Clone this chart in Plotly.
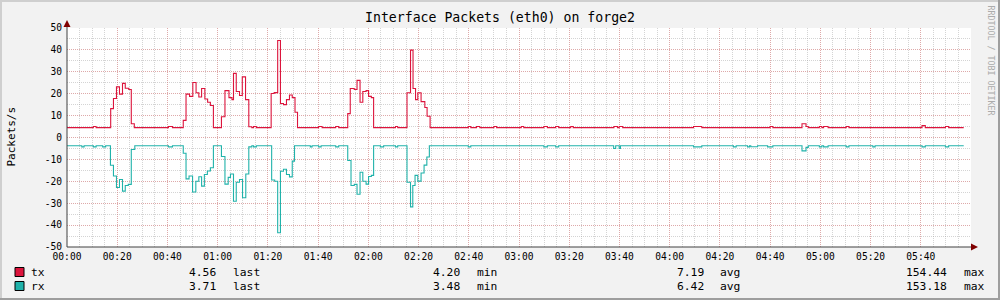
import plotly.graph_objects as go

# ---------------- data (minutes since 00:00, step start -> value) ----------------
tx_t = [0, 10.5, 11.6, 17.4, 18.5, 19.7, 20.9, 22.1, 23.2, 24.6, 25.6, 26.8,
        40.4, 42.0, 46.3, 47.4, 48.8, 50.1, 51.4, 52.5, 53.6, 54.9, 56.0, 57.1, 58.3,
        61.5, 62.9, 64.5, 65.7, 66.3, 67.4, 68.7, 69.8, 71.1, 72.4, 73.6, 74.3, 75.4,
        81.3, 82.5, 83.9, 85.0, 86.2, 87.4, 88.6, 89.7, 90.8, 91.8,
        100.2, 101.6, 107.0, 108.2,
        111.8, 112.8, 114.4, 115.5, 116.7, 117.8, 119.1, 120.1, 121.2, 122.1,
        130.8, 131.7,
        135.4, 136.8, 137.8, 138.8, 139.7, 141.0, 142.5, 143.4, 144.6,
        159.8, 160.8, 163.1, 164.4, 170.0, 171.1, 180.9, 181.9, 189.9, 191.3,
        194.6, 195.8, 200.6, 201.6, 217.8, 219.2, 219.9, 221.3, 249.5, 252.8,
        280.0, 281.1, 292.7, 294.3, 295.2, 299.6, 300.6, 301.3, 303.1, 310.3, 311.4,
        340.5, 341.8, 349.8, 351.1, 357.1]
tx_v = [4.5, 5.0, 4.5, 13.2, 17.8, 23.1, 19.8, 24.7, 22.5, 21.9, 6.3, 4.5,
        5.0, 4.5, 7.8, 19.8, 18.8, 25.1, 20.4, 18.5, 22.4, 17.6, 16.1, 14.6, 4.5,
        9.5, 21.4, 18.2, 17.3, 29.3, 21.0, 19.2, 27.7, 17.3, 4.9, 4.5, 5.0, 4.5,
        20.1, 20.5, 44.3, 15.5, 15.0, 17.3, 19.4, 18.2, 11.5, 4.5,
        5.0, 4.5, 5.0, 4.5,
        10.9, 22.4, 21.9, 26.1, 16.1, 21.0, 21.4, 18.8, 18.2, 4.5,
        5.0, 4.5,
        20.4, 39.9, 22.4, 17.3, 20.4, 16.4, 13.7, 9.7, 4.5,
        5.0, 4.5, 5.0, 4.5, 5.0, 4.5, 5.0, 4.5, 5.0, 4.5,
        5.0, 4.5, 5.0, 4.5, 5.0, 4.5, 5.0, 4.5, 5.0, 4.5,
        5.0, 4.5, 6.3, 5.0, 4.5, 5.0, 4.5, 5.0, 4.5, 5.0, 4.5,
        5.4, 4.5, 5.0, 4.5, 4.5]

rx_t = [0, 5.9, 6.8, 10.5, 11.6, 14.2, 15.4, 17.3, 18.5, 19.7, 20.9, 22.1, 23.2, 24.4, 25.6, 27.0,
        40.4, 42.0, 46.3, 47.4, 48.6, 50.0, 51.3, 52.5, 53.6, 54.7, 55.9, 57.1, 58.3,
        61.5, 62.9, 64.2, 65.1, 66.3, 67.4, 68.7, 69.9, 71.2, 72.4, 73.6, 74.3, 75.4,
        81.5, 82.7, 83.9, 85.0, 86.2, 87.4, 88.6, 89.7, 90.6,
        96.9, 97.6, 100.2, 101.2, 107.0, 108.2,
        111.8, 113.1, 114.4, 115.5, 116.7, 117.8, 119.1, 120.1, 121.2, 122.1,
        124.8, 126.1, 130.8, 131.7,
        135.4, 136.8, 137.7, 138.6, 139.7, 141.0, 142.2, 143.3, 144.3,
        159.8, 160.8, 189.9, 191.3, 194.6, 195.8, 217.7, 218.5, 219.9, 220.4,
        249.5, 252.8, 265.4, 266.5, 271.0, 271.8, 272.3, 275.0, 279.0, 281.1,
        292.7, 294.3, 295.2, 299.6, 300.6, 301.3, 303.1, 310.3, 311.4, 320.9, 321.8,
        340.5, 341.8, 349.8, 351.1, 357.1]
rx_v = [-3.8, -4.3, -3.8, -4.3, -3.8, -4.3, -3.8, -12.7, -17.6, -22.8, -19.2, -24.5, -21.9, -21.4, -5.5, -3.8,
        -4.3, -3.8, -7.2, -18.9, -17.6, -24.9, -20.0, -17.9, -22.2, -16.9, -15.3, -13.8, -3.8,
        -8.7, -21.3, -18.2, -16.7, -29.1, -20.4, -19.2, -27.5, -16.7, -4.3, -3.8, -4.3, -3.8,
        -19.4, -20.0, -43.5, -15.4, -14.5, -16.9, -18.0, -10.8, -3.8,
        -4.3, -3.8, -4.3, -3.8, -4.3, -3.8,
        -10.5, -21.9, -21.4, -25.9, -15.9, -20.0, -21.3, -17.8, -17.3, -3.8,
        -4.3, -3.8, -4.3, -3.8,
        -20.4, -31.7, -21.9, -17.3, -19.9, -16.2, -12.6, -8.9, -3.8,
        -4.3, -3.8, -4.3, -3.8, -4.3, -3.8, -5.0, -3.8, -5.0, -3.8,
        -4.3, -3.8, -4.3, -3.8, -4.3, -3.8, -4.2, -3.8, -4.3, -3.8,
        -6.1, -4.5, -3.8, -4.3, -3.8, -4.3, -3.8, -4.3, -3.8, -4.3, -3.8,
        -4.3, -3.8, -4.3, -3.8, -3.8]

x_tickvals = list(range(0, 341, 20))
x_ticktext = ["00:00", "00:20", "00:40", "01:00", "01:20", "01:40", "02:00", "02:20", "02:40",
              "03:00", "03:20", "03:40", "04:00", "04:20", "04:40", "05:00", "05:20", "05:40"]
y_tickvals = [50, 40, 30, 20, 10, 0, -10, -20, -30, -40, -50]
y_ticktext = ["50", "40", "30", "20", "10", "0", "-10", "-20", "-30", "-40", "-50"]

series_names = ["tx", "rx"]
series_colors = ["#DC143C", "#20B2AA"]
stat_last = ["4.56", "3.71"]
stat_min = ["4.20", "3.48"]
stat_avg = ["7.19", "6.42"]
stat_max = ["154.44", "153.18"]

title_text = "Interface Packets (eth0) on forge2"
y_title = "Packets/s"
watermark = "RRDTOOL / TOBI OETIKER"

# ---------------- layout geometry ----------------
W, H = 1000, 300
L, R, T, B = 67, 29, 28, 53
PW, PH = W - L - R, H - T - B
MONO = "DejaVu Sans Mono"


def px(x):
    return (x - L) / PW


def py(y):
    return (H - B - y) / PH


fig = go.Figure()
fig.add_trace(go.Scatter(x=tx_t, y=tx_v, mode="lines", line=dict(color=series_colors[0], width=1.1, shape="hv"),
                         name="tx", showlegend=False, hoverinfo="skip"))
fig.add_trace(go.Scatter(x=rx_t, y=rx_v, mode="lines", line=dict(color=series_colors[1], width=1.1, shape="hv"),
                         name="rx", showlegend=False, hoverinfo="skip"))

major_grid = "rgba(235,110,110,0.42)"
minor_grid = "rgba(160,160,160,0.45)"
dash = "1px,1px"

fig.update_xaxes(range=[0, 360], tickmode="array", tickvals=x_tickvals, ticktext=x_ticktext,
                 showgrid=True, gridcolor=major_grid, griddash=dash, gridwidth=1,
                 minor=dict(tick0=0, dtick=5, showgrid=True, gridcolor=minor_grid, griddash=dash, gridwidth=1),
                 zeroline=False, showline=False, ticks="", ticklabelstandoff=2,
                 tickfont=dict(family=MONO, size=9.6, color="#000000"), fixedrange=True)
fig.update_yaxes(range=[-50, 50], tickmode="array", tickvals=y_tickvals, ticktext=y_ticktext,
                 showgrid=True, gridcolor=major_grid, griddash=dash, gridwidth=1,
                 minor=dict(tick0=0, dtick=5, showgrid=True, gridcolor=minor_grid, griddash=dash, gridwidth=1),
                 zeroline=False, showline=False, ticks="", ticklabelstandoff=4,
                 tickfont=dict(family=MONO, size=9.6, color="#000000"), fixedrange=True)

shapes = []
# frame shading
shapes.append(dict(type="rect", xref="paper", yref="paper", x0=px(0), x1=px(W), y0=py(H), y1=py(H - 2),
                   fillcolor="#9E9E9E", line=dict(width=0), layer="below"))
shapes.append(dict(type="rect", xref="paper", yref="paper", x0=px(W - 2), x1=px(W), y0=py(H), y1=py(0),
                   fillcolor="#9E9E9E", line=dict(width=0), layer="below"))
shapes.append(dict(type="rect", xref="paper", yref="paper", x0=px(0), x1=px(W - 2), y0=py(2), y1=py(0),
                   fillcolor="#CFCFCF", line=dict(width=0), layer="below"))
shapes.append(dict(type="rect", xref="paper", yref="paper", x0=px(0), x1=px(2), y0=py(H - 2), y1=py(0),
                   fillcolor="#CFCFCF", line=dict(width=0), layer="below"))
# axes lines
shapes.append(dict(type="line", xref="paper", yref="paper", x0=px(L), x1=px(L), y0=0, y1=py(24),
                   line=dict(color="#404040", width=1)))
shapes.append(dict(type="line", xref="paper", yref="paper", x0=0, x1=px(974), y0=0, y1=0,
                   line=dict(color="#404040", width=1)))
# arrows
shapes.append(dict(type="path", xref="paper", yref="paper",
                   path=f"M {px(L - 3.5)} {py(27)} L {px(L + 3.5)} {py(27)} L {px(L)} {py(20)} Z",
                   fillcolor="#800000", line=dict(width=0)))
shapes.append(dict(type="path", xref="paper", yref="paper",
                   path=f"M {px(971)} {py(H - B - 3.5)} L {px(971)} {py(H - B + 3.5)} L {px(978)} {py(H - B)} Z",
                   fillcolor="#800000", line=dict(width=0)))

annotations = []
annotations.append(dict(text=title_text, xref="paper", yref="paper", x=px(500), y=py(18), showarrow=False,
                        xanchor="center", yanchor="middle", font=dict(family=MONO, size=13.2, color="#000000")))
annotations.append(dict(text=y_title, xref="paper", yref="paper", x=px(10.5), y=py(137), showarrow=False,
                        textangle=-90, xanchor="center", yanchor="middle",
                        font=dict(family=MONO, size=11, color="#000000")))
annotations.append(dict(text=watermark, xref="paper", yref="paper", x=px(990.5), y=py(60), showarrow=False,
                        textangle=90, xanchor="center", yanchor="middle",
                        font=dict(family=MONO, size=8.3, color="#ABABAB")))

row_y = [272, 286]
LF = dict(family=MONO, size=11.3, color="#000000")
for i in range(2):
    yc = row_y[i]
    shapes.append(dict(type="rect", xref="paper", yref="paper", x0=px(15), x1=px(24), y0=py(yc + 4.5), y1=py(yc - 4.5),
                       fillcolor=series_colors[i], line=dict(color="#000000", width=1)))
    items = [(series_names[i], 29, "left"),
             (stat_last[i], 218, "right"), ("last", 231, "left"),
             (stat_min[i], 462, "right"), ("min", 475, "left"),
             (stat_avg[i], 706, "right"), ("avg", 718, "left"),
             (stat_max[i], 949, "right"), ("max", 962, "left")]
    for txt, xx, anc in items:
        annotations.append(dict(text=txt, xref="paper", yref="paper", x=px(xx), y=py(yc), showarrow=False,
                                xanchor=anc, yanchor="middle", font=LF))

fig.update_layout(width=W, height=H, margin=dict(l=L, r=R, t=T, b=B, pad=0),
                  paper_bgcolor="#F2F2F2", plot_bgcolor="#FFFFFF",
                  shapes=shapes, annotations=annotations, showlegend=False)

fig.write_html("out.html", config={"displayModeBar": False})
